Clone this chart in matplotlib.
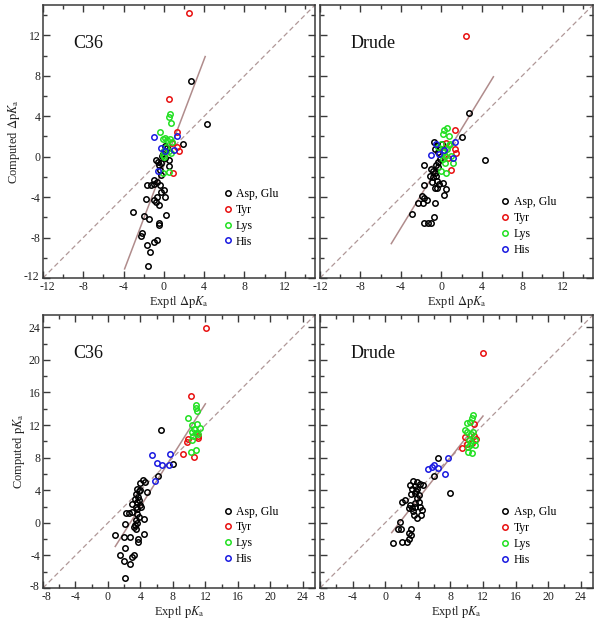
import numpy as np
import matplotlib
matplotlib.use("Agg")
import matplotlib.pyplot as plt
from matplotlib.ticker import MultipleLocator
from matplotlib.transforms import ScaledTranslation

plt.rcParams['font.family'] = ['Liberation Serif', 'DejaVu Serif']
plt.rcParams['mathtext.fontset'] = 'stix'

# ---------------- data ----------------
groups = ["Asp, Glu", "Tyr", "Lys", "His"]
colors = ["#000000", "#e81010", "#22e022", "#1a1ae0"]

# Top-left: C36, delta pKa
tl_asp = [(2.7, 7.5), (4.27, 3.2), (1.93, 1.3), (0.13, 1.1), (0.0, 0.6), (-0.2, 0.1), (0.1, -0.1),
          (-0.83, -0.3), (-0.6, -0.5), (-0.3, -0.6), (-0.5, -0.8), (0.47, -0.36), (0.53, -0.96),
          (-0.4, -1.3), (-0.3, -1.8), (-0.97, -2.3), (-0.7, -2.5), (-1.7, -2.8), (-1.3, -2.8),
          (-0.97, -2.7), (-0.4, -2.8), (-0.3, -3.5), (-0.03, -3.3), (-0.7, -4.0), (-0.97, -4.3),
          (-0.8, -4.5), (0.07, -4.0), (-1.8, -4.2), (-0.53, -4.76), (-3.03, -5.5), (-1.97, -5.9),
          (-1.47, -6.2), (0.2, -5.8), (-0.53, -6.6), (-0.53, -6.8), (-2.2, -7.5), (-2.3, -7.8),
          (-1.0, -8.4), (-0.7, -8.2), (-1.7, -8.7), (-1.4, -9.4), (-1.6, -10.8), (-0.1, 0.3), (0.3, 0.9)]
tl_tyr = [(2.47, 14.2), (0.53, 5.74), (1.3, 2.4), (1.3, 1.0), (1.47, 0.6), (0.93, -1.65), (0.8, 1.4)]
tl_lys = [(0.57, 4.2), (0.5, 3.9), (0.7, 3.35), (-0.37, 2.4), (-0.13, 1.7), (0.1, 1.8), (0.33, 1.6),
          (0.6, 1.7), (0.77, 1.5), (0.03, 0.6), (0.53, 0.6), (0.2, 1.0), (-0.07, 0.2), (0.7, 0.4),
          (-0.13, -1.6), (0.47, -1.5), (0.0, 0.0)]
tl_his = [(-1.03, 1.9), (1.3, 2.0), (-0.3, 0.9), (1.03, 0.65), (0.1, 0.55), (-0.63, -1.45)]
tl_fit_x = [-3.9, 4.1]
tl_fit_y = [-11.1, 9.9]

# Top-right: Drude, delta pKa
tr_asp = [(2.73, 4.33), (2.0, 1.9), (4.27, -0.33), (-0.77, 1.46), (0.1, 1.3), (-0.4, 1.2),
          (-0.67, 0.75), (-0.3, 0.5), (-0.1, -0.2), (-0.3, -0.5), (-1.67, -0.79), (-1.07, -1.2),
          (-0.83, -1.45), (-0.6, -1.6), (-1.17, -1.95), (-0.8, -2.0), (-0.5, -1.9), (-0.93, -2.5),
          (-0.67, -3.1), (-0.4, -3.1), (-0.4, -2.4), (0.17, -2.6), (0.43, -3.2), (-1.73, -2.8),
          (-1.93, -3.9), (-1.73, -4.1), (-2.27, -4.6), (-1.83, -4.6), (-1.43, -4.3), (-0.67, -4.6),
          (0.27, -3.8), (-2.9, -5.7), (-0.77, -6.0), (-1.67, -6.6), (-1.33, -6.6), (-1.0, -6.6),
          (-0.5, -0.8), (-0.33, -1.0), (-0.2, -2.7)]
tr_tyr = [(2.43, 11.9), (1.4, 2.68), (1.4, 0.76), (1.5, 0.4), (1.0, -1.3), (0.5, 1.4), (0.17, 0.6),
          (0.67, -0.1), (0.4, 0.1)]
tr_lys = [(0.6, 2.85), (0.27, 2.6), (0.17, 2.2), (0.77, 2.0), (0.83, 1.3), (0.0, 1.3), (-0.33, 1.0),
          (0.6, 0.76), (0.33, 0.04), (1.0, 0.04), (0.4, -0.6), (1.17, -0.6), (-0.07, -1.45),
          (0.5, -1.6), (0.2, -0.2), (0.27, 0.5), (0.73, 1.2)]
tr_his = [(-0.57, 1.3), (-1.0, 0.17), (-0.27, 0.3), (0.27, 0.7), (1.4, 1.5), (1.17, -0.13)]
tr_fit_x = [-4.95, 5.15]
tr_fit_y = [-8.6, 7.9]

# Bottom-left: C36, pKa
bl_asp = [(6.5, 11.4), (8.0, 7.2), (6.15, 5.7), (4.26, 5.3), (4.6, 5.0), (3.97, 4.9), (4.8, 3.8),
          (3.57, 4.1), (3.85, 3.9), (3.44, 3.5), (3.7, 3.2), (3.3, 2.9), (3.6, 2.6), (3.8, 2.8),
          (3.0, 2.3), (3.4, 2.0), (3.6, 1.75), (2.2, 1.2), (2.6, 1.2), (2.95, 1.3), (3.6, 1.1),
          (3.8, 0.7), (4.5, 0.5), (3.4, 0.4), (3.6, 0.0), (3.3, -0.3), (3.2, -0.5), (3.5, -0.7),
          (2.05, -0.16), (0.82, -1.5), (4.5, -1.4), (1.93, -1.8), (2.75, -1.7), (3.65, -2.0),
          (3.7, -2.3), (1.5, -3.9), (2.05, -3.1), (3.2, -3.9), (3.0, -4.2), (1.93, -4.7), (2.7, -5.0),
          (2.1, -6.8), (4.0, 4.0), (3.9, 2.2), (4.1, 1.9)]
bl_tyr = [(12.05, 23.9), (10.2, 15.5), (9.9, 10.3), (9.7, 9.9), (9.3, 8.4), (10.6, 8.1), (11.1, 10.4),
          (11.1, 10.7)]
bl_lys = [(10.9, 14.5), (10.9, 14.1), (11.0, 13.7), (9.9, 12.8), (10.3, 12.0), (11.0, 12.1),
          (11.3, 11.6), (10.4, 11.2), (10.8, 11.0), (11.1, 10.9), (10.5, 10.6), (10.3, 10.1),
          (10.2, 8.7), (10.8, 8.9), (10.6, 11.5)]
bl_his = [(5.37, 8.3), (7.7, 8.5), (6.07, 7.4), (6.64, 7.06), (7.5, 7.06), (5.8, 5.1)]
bl_fit_x = [0.9, 12.0]
bl_fit_y = [-2.9, 14.6]

# Bottom-right: Drude, pKa
br_asp = [(6.45, 8.0), (6.0, 5.8), (8.0, 3.7), (3.4, 5.1), (3.9, 5.0), (4.3, 4.8), (3.1, 4.6),
          (3.6, 4.5), (4.7, 4.6), (3.3, 4.1), (3.9, 4.2), (3.7, 3.6), (4.1, 3.4), (3.2, 3.5),
          (3.9, 3.0), (4.1, 2.6), (2.45, 2.8), (2.1, 2.6), (3.1, 2.2), (3.3, 1.8), (3.6, 2.0),
          (4.3, 2.0), (4.5, 1.55), (2.9, 1.8), (3.4, 1.4), (3.5, 0.9), (3.9, 0.65), (4.4, 0.9),
          (1.84, 0.1), (2.0, -0.7), (1.55, -0.7), (3.2, -0.8), (2.9, -1.2), (3.2, -1.5),
          (0.9, -2.45), (2.1, -2.3), (2.65, -2.3), (2.9, -2.0), (3.8, 3.9), (3.7, 2.4)]
br_tyr = [(12.0, 20.8), (10.9, 12.1), (9.8, 10.5), (10.9, 10.7), (11.1, 10.3), (9.4, 9.2),
          (10.0, 9.7), (10.6, 9.8)]
br_lys = [(10.8, 13.2), (10.7, 12.8), (10.4, 12.4), (10.0, 12.2), (9.8, 11.4), (10.0, 11.1),
          (10.5, 10.9), (10.8, 11.1), (11.0, 10.2), (10.3, 10.2), (10.5, 9.9), (10.1, 9.3),
          (10.4, 9.5), (11.0, 9.6), (10.1, 8.7), (10.7, 8.6)]
br_his = [(5.3, 6.6), (5.7, 6.9), (6.0, 7.1), (6.5, 6.7), (7.7, 7.9), (7.4, 6.0)]
br_fit_x = [0.8, 12.0]
br_fit_y = [-1.2, 13.1]

panel_titles = ["C36", "Drude", "C36", "Drude"]
delta_lim = (-12, 15)
pka_lim = (-8, 25.5)
delta_ticks = [-12, -8, -4, 0, 4, 8, 12]
pka_ticks = [-8, -4, 0, 4, 8, 12, 16, 20, 24]

# ---------------- figure ----------------
W, H = 598, 625
fig = plt.figure(figsize=(W / 100, H / 100), dpi=100)

def box(l, t, r, b):
    return [l / W, 1 - b / H, (r - l) / W, (b - t) / H]

axes = [fig.add_axes(box(43, 5, 315, 278)),
        fig.add_axes(box(320, 5, 593, 278)),
        fig.add_axes(box(43, 315, 315, 588)),
        fig.add_axes(box(320, 315, 593, 588))]

panels = [
    (tl_asp, tl_tyr, tl_lys, tl_his, tl_fit_x, tl_fit_y, delta_lim, delta_ticks, True, 0.22),
    (tr_asp, tr_tyr, tr_lys, tr_his, tr_fit_x, tr_fit_y, delta_lim, delta_ticks, False, 0.19),
    (bl_asp, bl_tyr, bl_lys, bl_his, bl_fit_x, bl_fit_y, pka_lim, pka_ticks, True, 0.193),
    (br_asp, br_tyr, br_lys, br_his, br_fit_x, br_fit_y, pka_lim, pka_ticks, False, 0.19),
]

frame_col = "#3a3a3a"
for i, (ax, p) in enumerate(zip(axes, panels)):
    asp, tyr, lys, his, fx, fy, lim, ticks, leftcol, legy = p
    ax.plot(lim, lim, ls=(0, (4, 2.5)), color="#b09898", lw=0.9, zorder=1)
    ax.plot(fx, fy, color="#b08c8c", lw=1.1, zorder=1)
    for data, lab, c in zip([asp, tyr, lys, his], groups, colors):
        arr = np.array(data)
        ax.plot(arr[:, 0], arr[:, 1], ls="none", marker="o", ms=3.9, mfc="none",
                mec=c, mew=1.1, label=lab, zorder=3)
    ax.set_xlim(lim)
    ax.set_ylim(lim)
    ax.set_xticks(ticks)
    ax.set_yticks(ticks)
    ax.xaxis.set_minor_locator(MultipleLocator(2))
    ax.yaxis.set_minor_locator(MultipleLocator(2))
    ax.tick_params(which="both", direction="in", top=True, right=True, colors=frame_col,
                   labelcolor="#222222", labelsize=8.5, width=1.0, pad=2)
    ax.tick_params(which="major", length=5)
    ax.tick_params(which="minor", length=2.6)
    for s in ax.spines.values():
        s.set_color(frame_col)
        s.set_linewidth(1.1)
    ax.set_xticklabels([str(t) for t in ticks])
    if leftcol:
        ax.set_yticklabels([str(t) for t in ticks])
        # nudge the corner labels apart as in the original
        first_x = ax.get_xticklabels()[0]
        first_x.set_transform(first_x.get_transform() +
                              ScaledTranslation(4 / 100, 0, fig.dpi_scale_trans))
        first_y = ax.get_yticklabels()[0]
        first_y.set_transform(first_y.get_transform() +
                              ScaledTranslation(-1 / 100, 2 / 100, fig.dpi_scale_trans))
    else:
        ax.set_yticklabels([])
    ax.text(0.11, 0.86, panel_titles[i], transform=ax.transAxes, fontsize=13,
            va="center", ha="left", color="#111111")
    ax.legend(loc="center left", bbox_to_anchor=(0.662, legy), frameon=False,
              fontsize=8.5, handlelength=0.8, handletextpad=0.3, labelspacing=0.32,
              borderpad=0, borderaxespad=0, numpoints=1)
    if i < 2:
        ax.set_xlabel(r"Exptl $\Delta\mathrm{p}K_{\mathrm{a}}$", fontsize=9, labelpad=1, color="#222222")
    else:
        ax.set_xlabel(r"Exptl $\mathrm{p}K_{\mathrm{a}}$", fontsize=9, labelpad=1, color="#222222")
    if i == 0:
        ax.set_ylabel(r"Computed $\Delta\mathrm{p}K_{\mathrm{a}}$", fontsize=9, labelpad=1, color="#222222")
    if i == 2:
        ax.set_ylabel(r"Computed $\mathrm{p}K_{\mathrm{a}}$", fontsize=9, labelpad=1, color="#222222")

fig.savefig("out.png", dpi=100, facecolor="white")
